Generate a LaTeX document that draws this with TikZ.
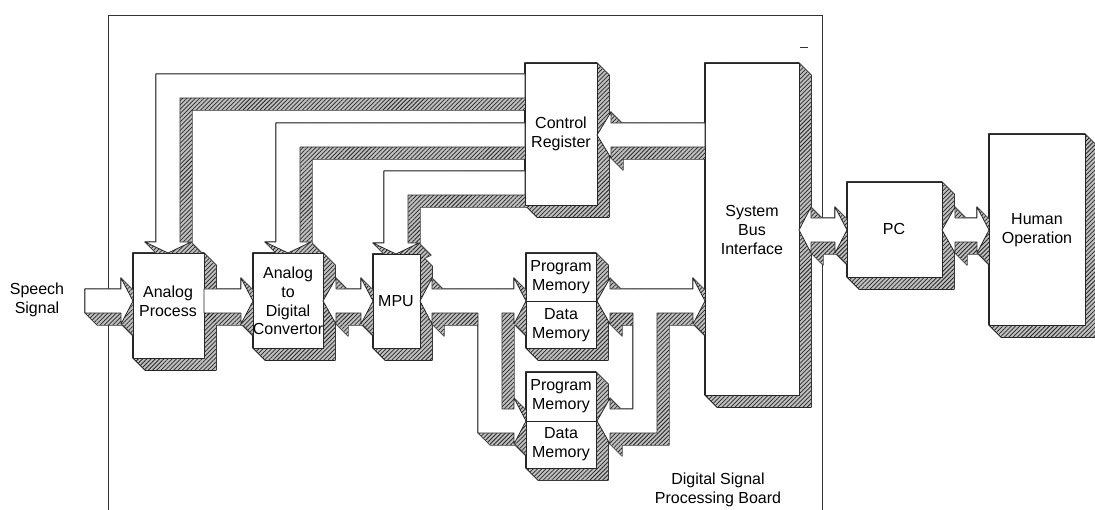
\documentclass[tikz,border=0pt]{standalone}
\usepackage{fontspec}
\setmainfont{Liberation Sans}
\usetikzlibrary{patterns.meta}
\tikzset{
  face/.style={fill=white, draw=black!85, line width=0.8pt, line join=round},
  shline/.style={draw=black!85, line width=1.3pt, line join=round},
  shfill/.style={fill=gray!50},
  shpat/.style={pattern={Lines[angle=45,distance=3pt,line width=0.75pt]}, pattern color=black!85},
  lbl/.style={font=\fontsize{16}{18.6}\selectfont, align=center, inner sep=0pt},
  frameline/.style={draw=black!80, line width=0.8pt},
}
% #1 = path command, #2 = list of offsets
\newcommand\allshapes[2]{%
 % boxes
 #1 \foreach \dd in {#2}{(133+\dd,253+\dd) rectangle (204+\dd,358+\dd)};
 #1 \foreach \dd in {#2}{(253+\dd,253+\dd) rectangle (323+\dd,348+\dd)};
 #1 \foreach \dd in {#2}{(373+\dd,254+\dd) rectangle (420+\dd,348+\dd)};
 #1 \foreach \dd in {#2}{(525+\dd,63+\dd) rectangle (597+\dd,205+\dd)};
 #1 \foreach \dd in {#2}{(705+\dd,63+\dd) rectangle (799+\dd,395+\dd)};
 #1 \foreach \dd in {#2}{(847+\dd,182+\dd) rectangle (942+\dd,277+\dd)};
 #1 \foreach \dd in {#2}{(989+\dd,134+\dd) rectangle (1085+\dd,325+\dd)};
 #1 \foreach \dd in {#2}{(526+\dd,253+\dd) rectangle (596+\dd,348+\dd)};
 #1 \foreach \dd in {#2}{(526+\dd,372+\dd) rectangle (596+\dd,468+\dd)};
 % control arrows
 #1 \foreach \dd in {#2}{(525+\dd,74+\dd) -- (156+\dd,74+\dd) -- (156+\dd,242+\dd) -- (145+\dd,242+\dd) -- (168+\dd,253+\dd) -- (191+\dd,242+\dd) -- (180+\dd,242+\dd) -- (180+\dd,98+\dd) -- (525+\dd,98+\dd) -- cycle};
 #1 \foreach \dd in {#2}{(525+\dd,123+\dd) -- (276+\dd,123+\dd) -- (276+\dd,242+\dd) -- (265+\dd,242+\dd) -- (288+\dd,253+\dd) -- (311+\dd,242+\dd) -- (300+\dd,242+\dd) -- (300+\dd,147+\dd) -- (525+\dd,147+\dd) -- cycle};
 #1 \foreach \dd in {#2}{(525+\dd,171+\dd) -- (384+\dd,171+\dd) -- (384+\dd,243+\dd) -- (373+\dd,243+\dd) -- (396+\dd,254+\dd) -- (419+\dd,243+\dd) -- (408+\dd,243+\dd) -- (408+\dd,195+\dd) -- (525+\dd,195+\dd) -- cycle};
 #1 \foreach \dd in {#2}{(705+\dd,123+\dd) -- (611+\dd,123+\dd) -- (611+\dd,112+\dd) -- (597+\dd,135+\dd) -- (611+\dd,158+\dd) -- (611+\dd,147+\dd) -- (705+\dd,147+\dd) -- cycle};
 % data path
 #1 \foreach \dd in {#2}{(85+\dd,289+\dd) -- (121+\dd,289+\dd) -- (121+\dd,278+\dd) -- (133+\dd,301+\dd) -- (121+\dd,324+\dd) -- (121+\dd,313+\dd) -- (85+\dd,313+\dd) -- cycle};
 #1 \foreach \dd in {#2}{(204+\dd,289+\dd) -- (241+\dd,289+\dd) -- (241+\dd,278+\dd) -- (253+\dd,301+\dd) -- (241+\dd,324+\dd) -- (241+\dd,313+\dd) -- (204+\dd,313+\dd) -- cycle};
 #1 \foreach \dd in {#2}{(323+\dd,301+\dd) -- (336+\dd,278+\dd) -- (336+\dd,289+\dd) -- (361+\dd,289+\dd) -- (361+\dd,278+\dd) -- (373+\dd,301+\dd) -- (361+\dd,324+\dd) -- (361+\dd,313+\dd) -- (336+\dd,313+\dd) -- (336+\dd,324+\dd) -- cycle};
 #1 \foreach \dd in {#2}{(420+\dd,301+\dd) -- (432+\dd,278+\dd) -- (432+\dd,289+\dd) -- (514+\dd,289+\dd) -- (514+\dd,278+\dd) -- (526+\dd,301+\dd) -- (514+\dd,324+\dd) -- (514+\dd,313+\dd) -- (502+\dd,313+\dd) -- (502+\dd,409+\dd) -- (514+\dd,409+\dd) -- (514+\dd,398+\dd) -- (526+\dd,421+\dd) -- (514+\dd,444+\dd) -- (514+\dd,433+\dd) -- (478+\dd,433+\dd) -- (478+\dd,313+\dd) -- (432+\dd,313+\dd) -- (432+\dd,324+\dd) -- cycle};
 #1 \foreach \dd in {#2}{(597+\dd,301+\dd) -- (610+\dd,278+\dd) -- (610+\dd,289+\dd) -- (693+\dd,289+\dd) -- (693+\dd,278+\dd) -- (705+\dd,301+\dd) -- (693+\dd,324+\dd) -- (693+\dd,313+\dd) -- (657+\dd,313+\dd) -- (657+\dd,433+\dd) -- (610+\dd,433+\dd) -- (610+\dd,444+\dd) -- (597+\dd,421+\dd) -- (610+\dd,398+\dd) -- (610+\dd,409+\dd) -- (633+\dd,409+\dd) -- (633+\dd,313+\dd) -- (610+\dd,313+\dd) -- (610+\dd,324+\dd) -- cycle};
 #1 \foreach \dd in {#2}{(799+\dd,230+\dd) -- (811+\dd,207+\dd) -- (811+\dd,218+\dd) -- (835+\dd,218+\dd) -- (835+\dd,207+\dd) -- (847+\dd,230+\dd) -- (835+\dd,253+\dd) -- (835+\dd,242+\dd) -- (811+\dd,242+\dd) -- (811+\dd,253+\dd) -- cycle};
 #1 \foreach \dd in {#2}{(942+\dd,230+\dd) -- (955+\dd,207+\dd) -- (955+\dd,218+\dd) -- (977+\dd,218+\dd) -- (977+\dd,207+\dd) -- (989+\dd,230+\dd) -- (977+\dd,253+\dd) -- (977+\dd,242+\dd) -- (955+\dd,242+\dd) -- (955+\dd,253+\dd) -- cycle};
}
\begin{document}
\begin{tikzpicture}[x=1pt,y=-1pt]
\useasboundingbox (0,0) rectangle (1095,510);
\draw[frameline] (108,515) -- (108,15) -- (822,15) -- (822,515);
\draw[frameline] (800,47) -- (808,47);
\allshapes{\path[shline]}{0,1,...,12}
\allshapes{\path[shfill]}{0,1,...,12}
\allshapes{\path[shpat]}{0,1,...,12}
\allshapes{\path[face]}{0}
\draw[face] (526,301) -- (596,301);
\draw[face] (526,421) -- (596,421);
\node[lbl] (speech) at (37,300) {Speech\\Signal};
\node[lbl] (ap) at (168,301) {Analog\\Process};
\node[lbl] (adc) at (288,301) {Analog\\to\\Digital\\Convertor};
\node[lbl] (mpu) at (396,301) {MPU};
\node[lbl] (cr) at (561,134) {Control\\Register};
\node[lbl] (pm1) at (561,277) {Program\\Memory};
\node[lbl] (dm1) at (561,325) {Data\\Memory};
\node[lbl] (pm2) at (561,396) {Program\\Memory};
\node[lbl] (dm2) at (561,444) {Data\\Memory};
\node[lbl] (sbi) at (752,230) {System\\Bus\\Interface};
\node[lbl] (pc) at (894,229) {PC};
\node[lbl] (ho) at (1037,230) {Human\\Operation};
\node[lbl] (dsp) at (718,490) {Digital Signal\\Processing Board};
\end{tikzpicture}
\end{document}
